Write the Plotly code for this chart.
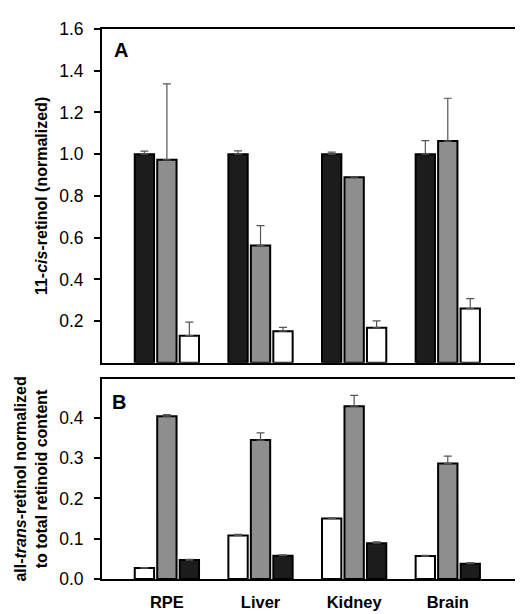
import plotly.graph_objects as go

tissues = ["RPE", "Liver", "Kidney", "Brain"]
xpos = [0, 1, 2, 3]

# Panel A: 11-cis-retinol (normalized)
a_black = [1.00, 1.00, 1.00, 1.00]
a_black_err = [0.015, 0.016, 0.010, 0.065]
a_grey = [0.973, 0.563, 0.890, 1.063]
a_grey_err = [0.364, 0.095, 0.0, 0.205]
a_white = [0.130, 0.152, 0.168, 0.260]
a_white_err = [0.065, 0.018, 0.033, 0.048]

# Panel B: all-trans-retinol normalized to total retinoid content
b_white = [0.027, 0.108, 0.150, 0.057]
b_white_err = [0.001, 0.003, 0.002, 0.002]
b_grey = [0.404, 0.345, 0.429, 0.287]
b_grey_err = [0.004, 0.018, 0.027, 0.018]
b_black = [0.047, 0.058, 0.089, 0.038]
b_black_err = [0.002, 0.002, 0.003, 0.003]

BLACK = "#1c1c1c"
GREY = "#8e8e8e"
WHITE = "#ffffff"
FONT = "Liberation Sans, Arial, sans-serif"

fig = go.Figure()

def add_bar(y, err, color, xa, ya, og):
    fig.add_trace(go.Bar(
        x=xpos, y=y, xaxis=xa, yaxis=ya, offsetgroup=og,
        marker=dict(color=color, line=dict(color="black", width=2)),
        error_y=dict(type="data", symmetric=False, array=err,
                     arrayminus=[0] * len(err), color="#555555",
                     thickness=1.2, width=4),
        showlegend=False,
    ))

add_bar(a_black, a_black_err, BLACK, "x", "y", "1")
add_bar(a_grey, a_grey_err, GREY, "x", "y", "2")
add_bar(a_white, a_white_err, WHITE, "x", "y", "3")
add_bar(b_white, b_white_err, WHITE, "x2", "y2", "1")
add_bar(b_grey, b_grey_err, GREY, "x2", "y2", "2")
add_bar(b_black, b_black_err, BLACK, "x2", "y2", "3")

xrange = [-0.693, 3.75]
axis_common = dict(showline=True, linecolor="black", linewidth=2, mirror=True,
                   showgrid=False, zeroline=False)

fig.update_layout(
    width=523, height=614,
    margin=dict(l=92, r=11, t=20, b=39),
    paper_bgcolor="white", plot_bgcolor="white",
    barmode="group", bargap=0.28, bargroupgap=0.14,
    font=dict(family=FONT, size=16, color="black"),
    xaxis=dict(domain=[0, 1], anchor="y", range=xrange, showticklabels=False,
               ticks="", **axis_common),
    yaxis=dict(domain=[0.393, 1], anchor="x", range=[0, 1.6],
               tickvals=[0.2, 0.4, 0.6, 0.8, 1.0, 1.2, 1.4, 1.6],
               ticktext=["0.2", "0.4", "0.6", "0.8", "1.0", "1.2", "1.4", "1.6"],
               ticks="outside", ticklen=6, tickwidth=1.5, tickcolor="black",
               tickfont=dict(size=17.5), ticklabelstandoff=7,
               title=dict(text="<b>11-<i>cis</i>-retinol (normalized)</b>",
                          font=dict(size=16), standoff=8),
               **axis_common),
    xaxis2=dict(domain=[0, 1], anchor="y2", range=xrange, tickvals=xpos,
                ticktext=["<b>" + t + "</b>" for t in tissues], ticks="",
                tickfont=dict(size=16.5),
                ticklabelstandoff=7, **axis_common),
    yaxis2=dict(domain=[0, 0.364], anchor="x2", range=[0, 0.497],
                tickvals=[0.0, 0.1, 0.2, 0.3, 0.4],
                ticktext=["0.0", "0.1", "0.2", "0.3", "0.4"],
                ticks="outside", ticklen=6, tickwidth=1.5, tickcolor="black",
                tickfont=dict(size=17.5), ticklabelstandoff=7,
                title=dict(text="<b>all-<i>trans</i>-retinol normalized<br>to total retinoid content</b>",
                           font=dict(size=16), standoff=8),
                **axis_common),
    annotations=[
        dict(text="<b>A</b>", xref="x domain", yref="y domain", x=0.025, y=0.975,
             xanchor="left", yanchor="top", showarrow=False, font=dict(size=20)),
        dict(text="<b>B</b>", xref="x2 domain", yref="y2 domain", x=0.02, y=0.95,
             xanchor="left", yanchor="top", showarrow=False, font=dict(size=20)),
    ],
)

fig.write_html("out.html")
